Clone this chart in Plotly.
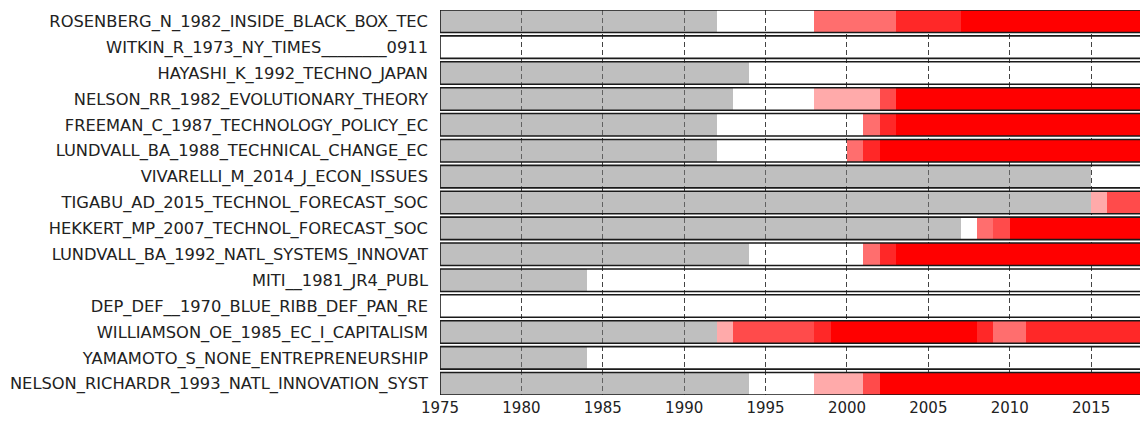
import plotly.graph_objects as go

# Cited references, top to bottom
labels = [
    "ROSENBERG_N_1982_INSIDE_BLACK_BOX_TEC",
    "WITKIN_R_1973_NY_TIMES________0911",
    "HAYASHI_K_1992_TECHNO_JAPAN",
    "NELSON_RR_1982_EVOLUTIONARY_THEORY",
    "FREEMAN_C_1987_TECHNOLOGY_POLICY_EC",
    "LUNDVALL_BA_1988_TECHNICAL_CHANGE_EC",
    "VIVARELLI_M_2014_J_ECON_ISSUES",
    "TIGABU_AD_2015_TECHNOL_FORECAST_SOC",
    "HEKKERT_MP_2007_TECHNOL_FORECAST_SOC",
    "LUNDVALL_BA_1992_NATL_SYSTEMS_INNOVAT",
    "MITI__1981_JR4_PUBL",
    "DEP_DEF__1970_BLUE_RIBB_DEF_PAN_RE",
    "WILLIAMSON_OE_1985_EC_I_CAPITALISM",
    "YAMAMOTO_S_NONE_ENTREPRENEURSHIP",
    "NELSON_RICHARDR_1993_NATL_INNOVATION_SYST",
]

# Year up to which each row is greyed out (None = no grey span)
grey_until = [1992, None, 1994, 1993, 1992, 1992, 2015, 2015, 2007, 1994,
              1984, None, 1992, 1984, 1994]

# Citation-burst spans per row: (start year, end year, intensity level 1..5)
burst_spans = [
    [(1998, 2003, 2), (2003, 2007, 4), (2007, 2018, 5)],
    [],
    [],
    [(1998, 2002, 1), (2002, 2003, 3), (2003, 2018, 5)],
    [(2001, 2002, 2), (2002, 2003, 4), (2003, 2018, 5)],
    [(2000, 2001, 2), (2001, 2002, 4), (2002, 2018, 5)],
    [],
    [(2015, 2016, 1), (2016, 2018, 3)],
    [(2008, 2009, 2), (2009, 2010, 3), (2010, 2018, 5)],
    [(2001, 2002, 2), (2002, 2003, 4), (2003, 2018, 5)],
    [],
    [],
    [(1992, 1993, 1), (1993, 1998, 3), (1998, 1999, 4), (1999, 2008, 5),
     (2008, 2009, 4), (2009, 2011, 2), (2011, 2018, 4)],
    [],
    [(1998, 2001, 1), (2001, 2002, 3), (2002, 2018, 5)],
]

year_start, year_end = 1975, 2018
tick_years = [1975, 1980, 1985, 1990, 1995, 2000, 2005, 2010, 2015]

level_colors = {1: "#ffaaaa", 2: "#ff6e6e", 3: "#ff4b4b", 4: "#ff2828", 5: "#ff0000"}
bar_w = 0.869
rows = list(range(len(labels)))

fig = go.Figure()

# grey span (semi-transparent so the dashed grid shows through)
gy, gx, gb = [], [], []
for r, g in zip(rows, grey_until):
    if g is not None:
        gy.append(r)
        gb.append(year_start)
        gx.append(g - year_start)
fig.add_trace(go.Bar(y=gy, x=gx, base=gb, orientation="h", width=bar_w,
                     marker=dict(color="rgba(128,128,128,0.5)", line=dict(width=0)),
                     showlegend=False, hoverinfo="skip"))

# burst spans grouped by intensity level
for lvl, col in level_colors.items():
    ys, xs, bs = [], [], []
    for r, spans in zip(rows, burst_spans):
        for s, e, l in spans:
            if l == lvl:
                ys.append(r)
                bs.append(s)
                xs.append(e - s)
    if ys:
        fig.add_trace(go.Bar(y=ys, x=xs, base=bs, orientation="h", width=bar_w,
                             marker=dict(color=col, line=dict(width=0)),
                             showlegend=False, hoverinfo="skip"))

# frame around every row (right side runs off the canvas)
for r in rows:
    top, bot = r - bar_w / 2, r + bar_w / 2
    fig.add_shape(type="path",
                  path=f"M {year_end + 0.5} {top} L {year_start} {top} "
                       f"L {year_start} {bot} L {year_end + 0.5} {bot}",
                  xref="x", yref="y", line=dict(color="#1a1a1a", width=1.6),
                  layer="above")

fig.update_layout(
    width=1140, height=421,
    margin=dict(l=440, r=0, t=10, b=26),
    plot_bgcolor="white", paper_bgcolor="white",
    barmode="overlay", bargap=0,
    font=dict(family="DejaVu Sans", color="#222222"),
    xaxis=dict(range=[year_start, year_end], tickvals=tick_years,
               showgrid=True, gridcolor="#444444", gridwidth=1,
               griddash="5px,3px", zeroline=False, showline=False,
               ticks="", tickfont=dict(size=15), ticklabelstandoff=2),
    yaxis=dict(range=[len(labels) - 1 + bar_w / 2, -bar_w / 2],
               tickvals=rows, ticktext=labels, showgrid=False,
               zeroline=False, showline=False, ticks="",
               tickfont=dict(size=16.3), ticklabelstandoff=11),
)

fig.write_html("out.html")
